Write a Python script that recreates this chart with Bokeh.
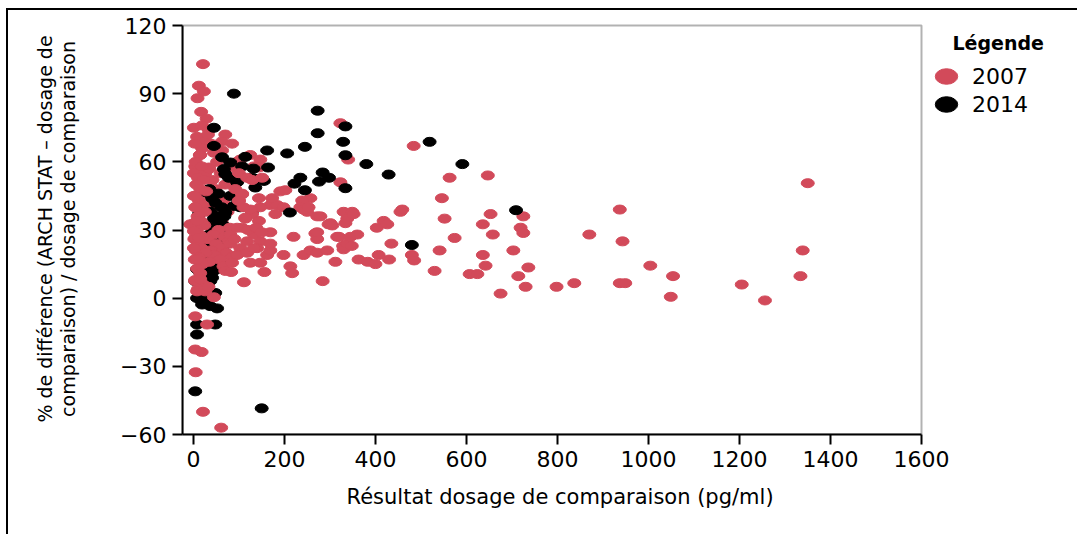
from bokeh.plotting import figure
from bokeh.models import Range1d, FixedTicker, Legend, LegendItem, Label, BoxAnnotation, Title
from bokeh.embed import file_html
from bokeh.resources import INLINE

# ---------------- data ----------------
x_2007 = [
    # upper-left outliers
    21, 12, 23, 9, 17, 29, 1, 19, 34, 70, 8, 26, 63, 85, 19, 63, 15, 125, 147, 96,
    89, 133, 144, 103, 4, 8, 1, 26, 34,
    # upper middle / right
    323, 484, 340, 563, 647, 1350, 323, 191, 202, 546, 257, 239, 169, 184, 198, 235,
    250, 272, 301, 330, 349, 334, 418, 403, 455, 459, 552, 653, 725, 937, 636, 719,
    725, 658, 574, 870, 943,
    # right, lower
    541, 703, 1339, 480, 485, 636, 642, 530, 1004, 736, 607, 624, 714, 1054, 1334,
    730, 798, 837, 937, 949, 1205, 675, 1049, 1256,
    # middle band
    162, 169, 169, 173, 180, 198, 213, 217, 220, 242, 242, 253, 257, 268, 272, 272,
    272, 279, 284, 294, 297, 305, 312, 316, 320, 329, 330, 338, 338, 345, 348, 352,
    360, 363, 383, 400, 407, 426, 430, 435,
    # dense core, 30-85
    32, 38, 45, 52, 35, 60, 42, 70, 48, 33, 58, 66, 40, 75, 50, 62, 36, 80, 55, 44,
    68, 30, 78, 50, 62, 38, 72, 46, 84, 58, 35, 66, 70,
    # dense core, x < 30
    3, 14, 5, 18, 10, 22, 6, 15, 28, 3, 12, 20, 5, 25, 9, 16, 1, 24, 7, 13, 20, 2,
    10, 18, 5, 26, 12, 3, 20, 8, 15, 4, 22, 10, 26, -7, 15, 4, 1, 8, 12, 1, 4, 8,
    1, 12,
    # dense core, 80-170
    100, 118, 129, 151, 107, 100, 114, 107, 81, 96, 133, 118, 147, 169, 81, 103, 144,
    147, 129, 144, 125, 92, 110, 120, 140, 96, 118, 85, 125, 147, 133, 111, 156, 83,
    90, 138, 150, 107, 100, 114,
    # low / negative
    4, 30, 4, 18, 5, 21, 61, 8, 45, 26, 4, 15, 33,
]
y_2007 = [
    # upper-left outliers
    103, 93.5, 91, 88, 82, 79, 75, 76, 74, 72, 71, 69, 69, 68, 66, 65, 63, 63, 61, 60,
    57.5, 58, 57.5, 61, 58, 55, 55, 55, 57.5,
    # upper middle / right
    77, 67, 61, 53, 54, 50.6, 51, 47, 47.5, 44, 44, 43, 41, 41, 40, 40,
    38, 36, 33, 38, 38, 33, 34, 31, 38, 39, 35, 37, 36, 39, 32.5, 31,
    28.7, 28, 26.5, 28, 25,
    # right, lower
    21, 21, 21, 19, 16.6, 19, 14.3, 12, 14.3, 13.5, 10.6, 10.6, 9.7, 9.7, 9.7,
    5, 5, 6.6, 6.6, 6.6, 6, 2, 0.6, -1,
    # middle band
    19, 21, 29, 44, 37, 19, 14, 11, 27, 19, 39, 40, 21, 28.5, 20, 26,
    29, 36, 7.5, 21, 32.5, 32, 16, 27, 27, 23, 21.5, 35, 24, 27, 23, 37,
    28, 17, 16, 15, 19, 32.5, 17, 24,
    # dense core, 30-85
    72, 68, 64, 60, 57, 55, 52, 50, 48, 46, 44, 42, 40, 38, 36, 34, 32, 31, 30, 28,
    27, 26, 25, 24, 22, 21, 20, 19, 18, 17, 16, 14, 12,
    # dense core, x < 30
    68, 63, 60, 58, 53, 52, 50, 48, 47, 45, 43, 41, 40, 38, 36, 34, 33, 32, 30, 28, 27, 26,
    24, 22, 21, 20, 18, 17, 15, 13, 11, 8, 6, 4, 3, 32.5, 34, 26.6, 22, 17, 8, 45, 40, 34,
    29.5, 26.6,
    # dense core, 80-170
    55, 53, 52, 53, 46, 43, 35, 31, 28, 31, 28, 25, 25, 24, 24, 22, 44,
    40, 37, 34, 39, 48, 40, 30, 22, 19, 20, 15.6, 15.6, 15.6, 22, 7, 11.5, 11.5,
    26, 31, 29, 45.7, 42.8, 35.4,
    # low / negative
    -8, -11.6, -22.6, -23.7, -32.6, -50, -57, 3, 0.4, 3.8, 7.5, 8.4, 5,
]
# the first points of 2007 are drawn beneath the 2014 points, the rest above them
n_2007_under = 29 + 37 + 24 + 40 + 17

x_2014 = [
    89, 273, 334, 273, 329, 519, 591, 45, 45, 162, 206, 245, 63, 81, 114, 164, 334, 380,
    429, 284, 298, 276, 235, 222, 245, 334, 212, 709, 480, 107, 132, 67, 70, 78, 136, 155,
    129, 136, 103, 129, 96, 81, 89, 70, 19, 12,
    35, 40, 48, 55, 62, 38, 50, 58, 66, 42, 72, 35, 47, 60, 70, 40, 52, 64, 36, 46, 58,
    30, 44, 55, 68, 75, 45, 33,
    8, 15, 34, 41, 30, 4, 37, 45, 15, 30, 48, 37, 52, 19, 8, 8, 48, 8, 4, 150,
]
y_2014 = [
    90, 82.5, 75.6, 72.6, 68.8, 68.8, 59, 75, 67, 65, 63.7, 66.6, 62, 59.7, 62.2, 57.5, 62.9, 59,
    54.4, 55.3, 53, 51.3, 53, 50.4, 47.5, 48.4, 37.7, 38.7, 23.4, 58, 57, 56.8, 54.6, 53, 52.4, 51.6,
    53, 48.7, 40, 38.4, 51, 45, 40.6, 37.7, 46.5, 37,
    48, 44, 42, 46, 40, 38, 36, 34, 32, 31, 30, 28, 27, 26, 24, 23, 22, 21, 19, 17, 16,
    14, 13, 33, 36, 28, 35, 25,
    12.7, 11.2, 11.2, 9, 7.5, 7.5, 7.5, 12, 1.6, 0.1, 2.3, -3.5, -4.5, -2.8, 0, -11.6, -11.6, -16, -41, -48.5,
]

x_min, x_max = -24, 1600
y_min, y_max = -60, 120
x_ticks = [0, 200, 400, 600, 800, 1000, 1200, 1400, 1600]
y_ticks = [-60, -30, 0, 30, 60, 90, 120]
series_labels = ["2007", "2014"]
series_colors = ["#D24A5A", "#000000"]
legend_title = "Légende"
x_title = "Résultat dosage de comparaison (pg/ml)"
y_title = "% de différence (ARCH STAT – dosage de\ncomparaison) / dosage de comparaison"

FONT = "DejaVu Sans"

# frame geometry (px): plot box 739 x 409, the frame extends right to host the legend
W, H = 1071, 526
LEFT, TOP_PAD, BOX_W, BOX_H, RIGHT = 174, 13, 739, 409, 11
px_per_x = BOX_W / (x_max - x_min)
px_per_y = BOX_H / (y_max - y_min)
frame_w = W - LEFT - RIGHT
x_end = x_min + frame_w / px_per_x
y_end = y_max + 2 / px_per_y

p = figure(
    width=W, height=H,
    x_range=Range1d(x_min, x_end), y_range=Range1d(y_min, y_end),
    output_backend="svg", toolbar_location=None,
    min_border_left=LEFT, min_border_right=RIGHT, min_border_top=TOP_PAD,
    min_border_bottom=H - TOP_PAD - 2 - BOX_H,
)
p.styles = {"margin-left": "6px", "margin-top": "8px",
            "border-left": "2px solid black", "border-top": "2px solid black"}

p.xgrid.visible = False
p.ygrid.visible = False
p.outline_line_color = None
p.background_fill_color = "white"
p.border_fill_color = "white"

p.add_layout(BoxAnnotation(left=x_min, right=x_max, bottom=y_min, top=y_max,
                           fill_alpha=0, line_color="black", line_width=2))

mk = dict(width=13, height=9, width_units="screen", height_units="screen")
r1 = p.ellipse(x=x_2007[:n_2007_under], y=y_2007[:n_2007_under],
               fill_color=series_colors[0], line_color=series_colors[0], **mk)
r2 = p.ellipse(x=x_2014, y=y_2014,
               fill_color=series_colors[1], line_color=series_colors[1], **mk)
r1b = p.ellipse(x=x_2007[n_2007_under:], y=y_2007[n_2007_under:],
                fill_color=series_colors[0], line_color=series_colors[0], **mk)

for ax in (p.xaxis[0], p.yaxis[0]):
    ax.axis_line_width = 2
    ax.axis_line_color = "black"
    ax.major_tick_line_width = 2
    ax.major_tick_line_color = "black"
    ax.major_tick_in = 0
    ax.minor_tick_in = 0
    ax.minor_tick_out = 0
    ax.major_label_text_font = FONT
    ax.major_label_text_font_size = "22px"
    ax.major_label_text_color = "black"
    ax.axis_label_text_font = FONT
    ax.axis_label_text_font_style = "normal"
    ax.axis_label_text_color = "black"

p.xaxis.bounds = (x_min, x_max)
p.xaxis.ticker = FixedTicker(ticks=x_ticks)
p.xaxis.major_tick_out = 10
p.xaxis.major_label_standoff = 6

# x-axis title, centred under the plot box (not under the wider frame)
p.add_layout(Title(text=x_title, align="left", offset=164, standoff=26,
                   text_font=FONT, text_font_style="normal", text_font_size="21px",
                   text_color="black"), "below")

p.yaxis.bounds = (y_min, y_max)
p.yaxis.ticker = FixedTicker(ticks=y_ticks)
p.yaxis.major_tick_out = 10
p.yaxis.major_label_standoff = 6
p.yaxis.axis_label = y_title
p.yaxis.axis_label_text_font_size = "19px"
p.yaxis.axis_label_text_line_height = 1.05
p.yaxis.axis_label_standoff = 38

legend = Legend(
    items=[LegendItem(label=series_labels[0], renderers=[r1]),
           LegendItem(label=series_labels[1], renderers=[r2])],
    location=(750, 316),
    label_text_font=FONT, label_text_font_size="22px", label_text_color="black",
    glyph_width=28, glyph_height=28, spacing=0, padding=2, margin=0,
    label_standoff=12, border_line_color=None, background_fill_alpha=0,
)
p.add_layout(legend)

p.add_layout(Label(x=x_max + (952 - 921) / px_per_x, y=y_max - (42 - 25) / px_per_y,
                   text=legend_title, text_font=FONT,
                   text_font_style="bold", text_font_size="19px",
                   text_color="black", text_baseline="middle", text_align="left"))

open("out.html", "w").write(file_html(p, INLINE, title="Tous les échantillons"))
